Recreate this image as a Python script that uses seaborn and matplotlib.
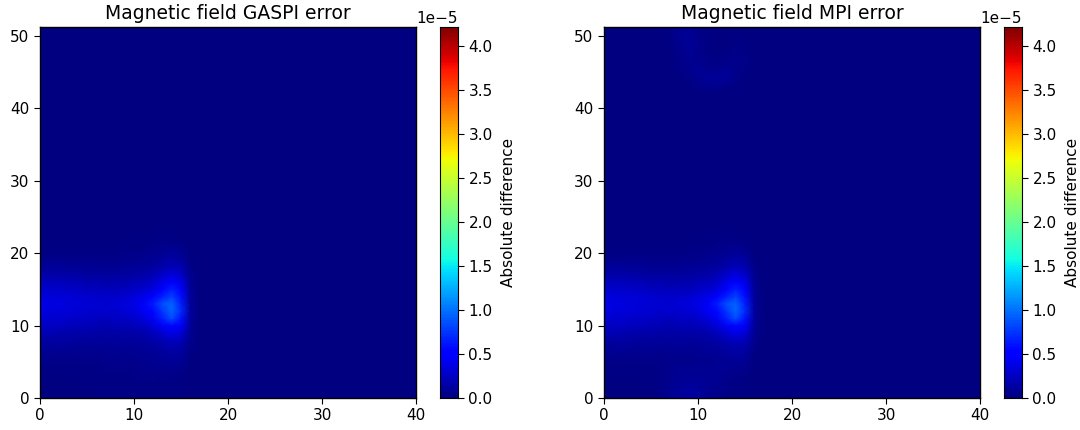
import numpy as np
import seaborn as sns
import matplotlib
matplotlib.use("Agg")
import matplotlib.pyplot as plt

# error values in units of 1e-6, one row per y = 0, 1, 2 ...
# columns are x = 0 .. 17
hot_rows = [
    [.1, .1, .1, .1, .1, .1, .2, .2, .2, .3, .3, .3, .3, .2, .2, .1, .1, .1],
    [.1, .1, .1, .1, .1, .1, .2, .2, .3, .3, .3, .3, .3, .3, .2, .2, .1, .1],
    [.1, .1, .1, .1, .2, .2, .2, .3, .3, .3, .3, .3, .4, .3, .3, .2, .1, .1],
    [.2, .2, .2, .2, .2, .3, .3, .3, .3, .3, .4, .4, .4, .4, .4, .3, .1, .1],
    [.3, .3, .3, .3, .3, .3, .3, .4, .4, .4, .4, .5, .5, .6, .6, .5, .1, .1],
    [.4, .4, .4, .4, .4, .4, .4, .5, .5, .5, .5, .6, .7, .8, .9, .8, .2, .1],
    [.6, .7, .6, .6, .7, .6, .6, .6, .7, .6, .7, .7, .9, 1.1, 1.2, 1.1, .3, .1],
    [1.0, .9, 1.0, .9, .8, .9, .8, .9, .8, .9, .8, 1.0, 1.1, 1.4, 1.7, 1.5, .4, .1],
    [1.4, 1.3, 1.4, 1.2, 1.3, 1.1, 1.2, 1.0, 1.2, 1.0, 1.2, 1.3, 1.5, 2.0, 2.4, 2.2, .5, .1],
    [1.9, 2.0, 1.7, 1.8, 1.6, 1.7, 1.4, 1.6, 1.4, 1.6, 1.6, 1.8, 2.2, 3.0, 3.8, 3.2, .7, .1],
    [2.6, 2.4, 2.5, 2.2, 2.3, 2.0, 2.1, 1.8, 2.1, 1.9, 2.2, 2.5, 3.2, 4.6, 5.6, 4.6, .9, .1],
    [3.2, 2.9, 3.1, 2.7, 2.8, 2.5, 2.6, 2.3, 2.7, 2.5, 2.9, 3.4, 4.4, 6.5, 8.5, 6.0, 1.0, .1],
    [3.8, 3.4, 3.2, 3.4, 3.0, 3.0, 2.7, 3.1, 2.8, 3.2, 3.4, 4.3, 5.6, 7.5, 9.5, 7.0, 1.1, .1],
    [4.0, 3.5, 3.7, 3.2, 3.4, 3.0, 3.2, 2.9, 3.3, 3.4, 3.9, 4.6, 6.4, 8.5, 9.5, 6.5, 1.1, .1],
    [3.6, 3.4, 3.2, 3.3, 3.0, 3.0, 2.7, 2.9, 2.8, 3.0, 3.3, 3.9, 4.8, 6.5, 8.0, 5.8, 1.0, .1],
    [3.1, 2.8, 2.9, 2.6, 2.7, 2.3, 2.4, 2.2, 2.4, 2.3, 2.7, 2.9, 3.6, 5.0, 6.5, 4.8, .9, .1],
    [2.4, 2.2, 2.3, 2.0, 2.1, 1.8, 1.9, 1.6, 1.8, 1.8, 2.0, 2.2, 2.7, 3.8, 5.0, 3.8, .7, .1],
    [1.7, 1.6, 1.5, 1.5, 1.4, 1.3, 1.2, 1.2, 1.2, 1.3, 1.4, 1.6, 2.0, 2.7, 3.5, 2.8, .6, .1],
    [1.1, 1.0, 1.0, .9, .9, .8, .8, .8, .8, .9, 1.0, 1.1, 1.3, 1.8, 2.2, 1.9, .4, .1],
    [.6, .6, .6, .5, .5, .5, .5, .5, .5, .6, .6, .7, .9, 1.2, 1.5, 1.2, .3, .1],
    [.3, .3, .3, .3, .3, .3, .3, .3, .3, .4, .4, .5, .6, .8, 1.0, .8, .2, .1],
    [.2, .2, .2, .2, .2, .2, .2, .2, .2, .2, .3, .3, .4, .5, .6, .4, .1, .1],
    [.1, .1, .1, .1, .1, .1, .1, .1, .1, .2, .2, .2, .2, .3, .3, .2, .1, .1],
    [.1, .1, .1, .1, .1, .1, .1, .1, .1, .1, .1, .1, .2, .2, .2, .1, .1, .1],
]

# extra glow in the MPI panel: rows y = 42 .. 52, columns x = 6 .. 16
mpi_top = [
    [.0, .0, .0, .0, .1, .1, .1, .1, .0, .0, .0],
    [.0, .0, .0, .1, .3, .5, .6, .4, .2, .0, .0],
    [.0, .0, .1, .3, .6, .9, 1.0, .8, .4, .1, .0],
    [.0, .0, .2, .5, .8, .7, .7, .8, .5, .2, .0],
    [.0, .1, .3, .6, .7, .4, .3, .5, .5, .3, .0],
    [.0, .1, .4, .7, .6, .3, .2, .3, .4, .3, .0],
    [.0, .2, .5, .8, .5, .2, .1, .2, .3, .2, .0],
    [.0, .2, .6, .8, .5, .2, .1, .1, .2, .2, .0],
    [.0, .2, .7, .8, .4, .2, .1, .1, .2, .1, .0],
    [.0, .2, .7, .8, .4, .2, .1, .1, .1, .1, .0],
    [.0, .2, .7, .8, .4, .2, .1, .1, .1, .1, .0],
]

# extra glow in the MPI panel near the bottom edge: rows y = 0 .. 4, columns x = 6 .. 13
mpi_bottom = [
    [.2, .5, .9, 1.1, .9, .5, .3, .1],
    [.2, .5, .8, 1.0, .8, .5, .3, .1],
    [.2, .4, .6, .8, .7, .5, .3, .1],
    [.1, .3, .4, .5, .5, .4, .3, .2],
    [.1, .2, .3, .3, .3, .3, .3, .2],
]

background = 0.05
x_ticks = [0, 10, 20, 30, 40]
y_ticks = [0, 10, 20, 30, 40, 50]
titles = ["Magnetic field GASPI error", "Magnetic field MPI error"]
vmax = 4.22e-5

gaspi = np.full((53, 41), background)
gaspi[:len(hot_rows), :18] = hot_rows
mpi = gaspi.copy()
mpi[42:53, 6:17] += np.array(mpi_top)
mpi[0:5, 6:14] += np.array(mpi_bottom)

W, H = 1080, 430
fig = plt.figure(figsize=(W / 100, H / 100), dpi=100)


def box(left, right, top=27, bottom=398):
    return [left / W, 1 - bottom / H, (right - left) / W, (bottom - top) / H]


panels = [(gaspi, 40, 416, 440, 458), (mpi, 604, 980, 1004, 1022)]
for (grid, l, r, cl, cr), title in zip(panels, titles):
    ax = fig.add_axes(box(l, r))
    cax = fig.add_axes(box(cl, cr))
    sns.heatmap(grid * 1e-6, ax=ax, cbar_ax=cax, cmap="jet", vmin=0, vmax=vmax,
                xticklabels=False, yticklabels=False, shading="gouraud",
                cbar_kws={"label": "Absolute difference"})
    ax.set_xlim(0, 40)
    ax.set_ylim(0, 51.2)
    ax.set_xticks(x_ticks, [str(t) for t in x_ticks])
    ax.set_yticks(y_ticks, [str(t) for t in y_ticks])
    ax.tick_params(labelsize=11, length=4, labelrotation=0)
    ax.set_title(title, fontsize=13.5, pad=6)
    for s in ax.spines.values():
        s.set_visible(True)
        s.set_linewidth(1)
    cax.tick_params(labelsize=11, length=4)
    cax.set_ylabel("Absolute difference", fontsize=11, labelpad=6)
    cax.yaxis.get_offset_text().set_size(11)
    for s in cax.spines.values():
        s.set_visible(True)

fig.savefig("out.png", dpi=100)
